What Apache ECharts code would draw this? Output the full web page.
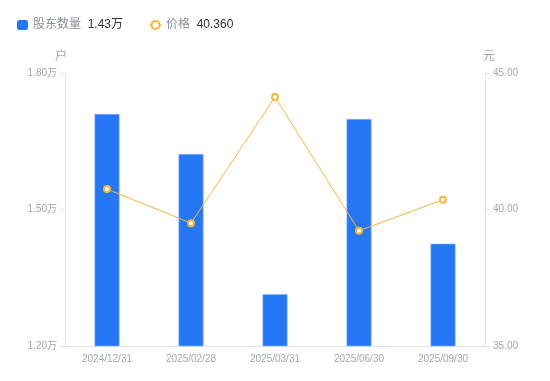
<!DOCTYPE html>
<html><head><meta charset="utf-8">
<script src="https://cdn.jsdelivr.net/npm/echarts@6/dist/echarts.min.js"></script>
<style>html,body{margin:0;padding:0;background:#fff}#c{width:550px;height:381px}</style>
</head><body><div id="c"></div>
<script>
const categories = ['2024/12/31','2025/02/28','2025/03/31','2025/06/30','2025/09/30'];
const holders = [17100, 16220, 13140, 16990, 14250];
const prices = [40.75, 39.50, 44.12, 39.22, 40.36];
const leftTicks = [12000, 18000, 3000];
const rightTicks = [35, 45, 5];
const legendValues = {'股东数量':'1.43万','价格':'40.360'};

const chart = echarts.init(document.getElementById('c'));
const font = '"Liberation Sans","Noto Sans CJK SC",sans-serif';
chart.setOption({
  animation:false,
  textStyle:{fontFamily:font},
  legend:{
    left:12, top:14, itemWidth:11, itemHeight:10, itemGap:26,
    data:[
      {name:'股东数量', icon:'roundRect', itemStyle:{borderWidth:0}},
      {name:'价格'}
    ],
    formatter: n => `{a|${n}}  {b|${legendValues[n]}}`,
    textStyle:{rich:{a:{color:'#8a8f99',fontSize:12,fontFamily:font},b:{color:'#333',fontSize:12,fontFamily:font}}}
  },
  grid:{left:65,right:65,top:73,bottom:35},
  xAxis:{
    type:'category', data:categories,
    axisLine:{lineStyle:{color:'#e3e5ea'}},
    axisTick:{show:false},
    axisLabel:{color:'#a3a7b2',fontSize:10,margin:8}
  },
  yAxis:[{
    type:'value', name:'户', min:leftTicks[0], max:leftTicks[1], interval:leftTicks[2],
    nameTextStyle:{color:'#a3a7b2',fontSize:12,padding:[0,8,0,0]},
    nameGap:10,
    axisLine:{show:true,lineStyle:{color:'#e3e5ea'}},
    axisTick:{show:true,lineStyle:{color:'#e3e5ea'}},
    splitLine:{show:false},
    axisLabel:{color:'#a3a7b2',fontSize:10,margin:8,formatter:v=>(v/10000).toFixed(2)+'万'}
  },{
    type:'value', name:'元', min:rightTicks[0], max:rightTicks[1], interval:rightTicks[2],
    nameTextStyle:{color:'#a3a7b2',fontSize:12,padding:[0,0,0,8]},
    nameGap:10,
    axisLine:{show:true,lineStyle:{color:'#e3e5ea'}},
    axisTick:{show:true,lineStyle:{color:'#e3e5ea'}},
    splitLine:{show:false},
    axisLabel:{color:'#a3a7b2',fontSize:10,margin:8,formatter:v=>v.toFixed(2)}
  }],
  series:[{
    name:'股东数量', type:'bar', data:holders, yAxisIndex:0, barWidth:25,
    itemStyle:{color:'#2677f6',borderColor:'#8fb8fb',borderWidth:0.6}
  },{
    name:'价格', type:'line', data:prices, yAxisIndex:1,
    symbol:'emptyCircle', symbolSize:6,
    lineStyle:{color:'#f7b53b',width:1},
    itemStyle:{color:'#f7b53b',borderWidth:1.5}
  }]
});
</script></body></html>
